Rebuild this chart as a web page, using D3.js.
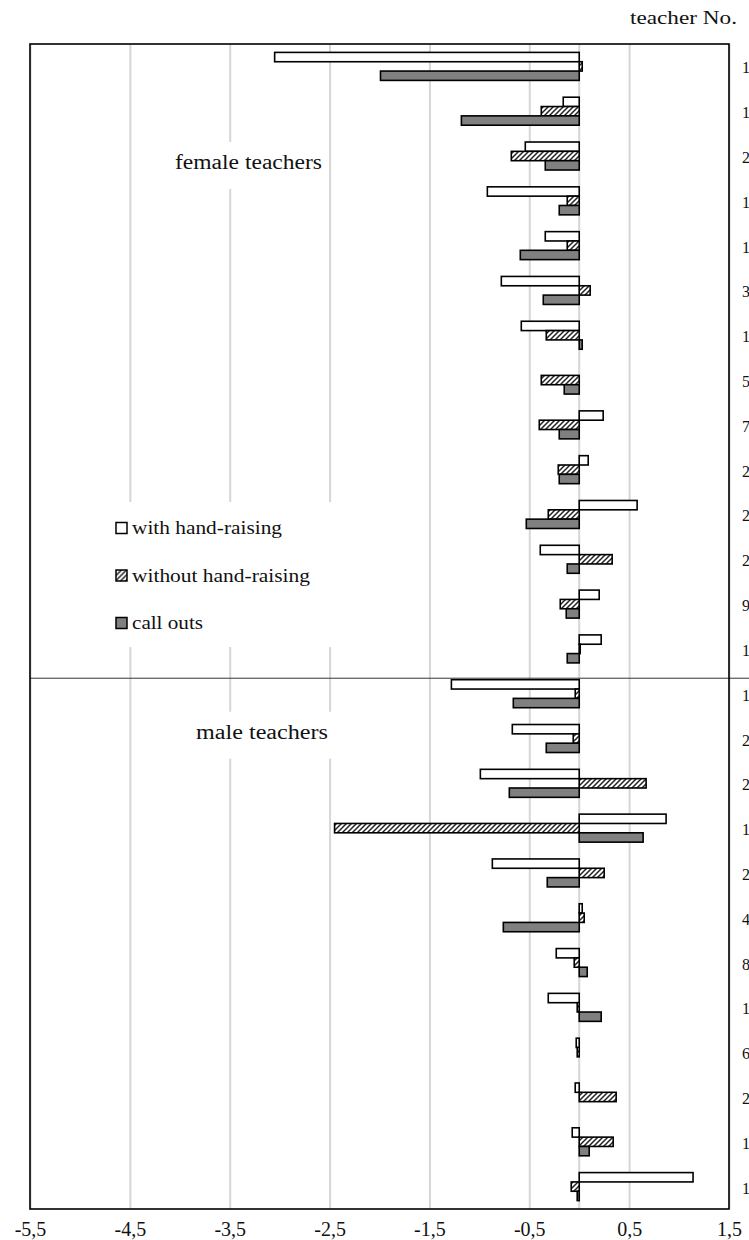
<!DOCTYPE html>
<html>
<head>
<meta charset="utf-8">
<script src="https://cdn.jsdelivr.net/npm/d3@7"></script>
<style>
  body { margin: 0; background: #fff; }
  svg { display: block; font-family: "Liberation Serif", "Times New Roman", serif; }
  svg text { font-family: "Liberation Serif", "Times New Roman", serif; }
</style>
</head>
<body>
<div id="chart"></div>
<script>
// teacher numbers as far as they are visible (cut at the right edge)
var femaleTeachers = ['1', '1', '2', '1', '1', '3', '1', '5', '7', '2', '2', '2', '9', '1'];
var maleTeachers = ['1', '2', '2', '1', '2', '4', '8', '1', '6', '2', '1', '1'];

var seriesNames = ['with hand-raising', 'without hand-raising', 'call outs'];

var withHandRaising = [-3.05, -0.16, -0.54, -0.92, -0.34, -0.78, -0.58, 0, 0.24, 0.09, 0.58, -0.39, 0.2, 0.22,
                       -1.28, -0.67, -0.99, 0.87, -0.87, 0.03, -0.23, -0.31, -0.03, -0.04, -0.07, 1.14];
var withoutHandRaising = [0.03, -0.38, -0.68, -0.12, -0.12, 0.11, -0.33, -0.38, -0.4, -0.21, -0.31, 0.33, -0.19, 0.01,
                          -0.04, -0.06, 0.67, -2.45, 0.25, 0.05, -0.05, -0.02, -0.02, 0.37, 0.34, -0.08];
var callOuts = [-1.99, -1.18, -0.34, -0.2, -0.59, -0.36, 0.03, -0.15, -0.2, -0.2, -0.53, -0.12, -0.13, -0.12,
                -0.66, -0.33, -0.7, 0.64, -0.32, -0.76, 0.08, 0.22, 0, 0, 0.1, -0.02];

var xTicks = [-5.5, -4.5, -3.5, -2.5, -1.5, -0.5, 0.5, 1.5];

var width = 749, height = 1240;
var teachers = femaleTeachers.concat(maleTeachers);
var seriesValues = [withHandRaising, withoutHandRaising, callOuts];

var svg = d3.select('#chart').append('svg')
  .attr('width', width)
  .attr('height', height);

var defs = svg.append('defs');
var hatch = defs.append('pattern')
  .attr('id', 'hatch')
  .attr('patternUnits', 'userSpaceOnUse')
  .attr('width', 5)
  .attr('height', 5);
hatch.append('rect').attr('width', 5).attr('height', 5).attr('fill', '#fff');
hatch.append('path')
  .attr('d', 'M0,5 L5,0 M-1,1 L1,-1 M4,6 L6,4')
  .attr('stroke', '#222')
  .attr('stroke-width', 1.5);

var fills = ['#fff', 'url(#hatch)', '#808080'];

var x = d3.scaleLinear().domain([-5.5, 1.5]).range([30, 729]);
var y = d3.scaleBand()
  .domain(d3.range(teachers.length))
  .range([44, 1209])
  .paddingInner(0.375)
  .paddingOuter(0.1875);
var ySeries = d3.scaleBand().domain(d3.range(seriesNames.length)).range([0, y.bandwidth()]);

var plotTop = y.range()[0], plotBottom = y.range()[1];

// vertical gridlines
svg.append('g')
  .attr('transform', 'translate(0,' + plotBottom + ')')
  .call(d3.axisBottom(x).tickValues(xTicks).tickSize(-(plotBottom - plotTop)).tickFormat(''))
  .call(function(g) {
    g.select('.domain').remove();
    g.selectAll('.tick line').attr('stroke', '#d6d6d6').attr('stroke-width', 2);
  });

// zero line
svg.append('line')
  .attr('x1', x(0)).attr('x2', x(0))
  .attr('y1', plotTop).attr('y2', plotBottom)
  .attr('stroke', '#d6d6d6')
  .attr('stroke-width', 2);

// white boxes behind annotations and legend
function note(txt, tx, ty, len) {
  svg.append('rect')
    .attr('x', tx - 10).attr('y', ty - 27)
    .attr('width', len + 16).attr('height', 47)
    .attr('fill', '#fff');
  svg.append('text')
    .attr('x', tx).attr('y', ty)
    .attr('font-size', 20)
    .attr('textLength', len)
    .attr('lengthAdjust', 'spacingAndGlyphs')
    .attr('fill', '#111')
    .text(txt);
}
note('female teachers', 175, 169, 147);

var maleBandTop = y(femaleTeachers.length);
note('male teachers', 196, maleBandTop + 59, 132);

// legend
var legendW = [150, 178, 71];
svg.append('rect')
  .attr('x', 105).attr('y', 502)
  .attr('width', 232).attr('height', 145)
  .attr('fill', '#fff');
var legend = svg.append('g').selectAll('g')
  .data(seriesNames)
  .join('g')
  .attr('transform', function(d, i) { return 'translate(116,' + (528 + i * 47.5) + ')'; });
legend.append('rect')
  .attr('x', 0).attr('y', -5.5)
  .attr('width', 11).attr('height', 11)
  .attr('fill', function(d, i) { return fills[i]; })
  .attr('stroke', '#000')
  .attr('stroke-width', 1.5);
legend.append('text')
  .attr('x', 16).attr('y', 6)
  .attr('font-size', 19)
  .attr('textLength', function(d, i) { return legendW[i]; })
  .attr('lengthAdjust', 'spacingAndGlyphs')
  .attr('fill', '#111')
  .text(function(d) { return d; });

// bars
seriesValues.forEach(function(vals, s) {
  svg.append('g').selectAll('rect')
    .data(vals)
    .join('rect')
    .attr('x', function(d) { return x(Math.min(0, d)); })
    .attr('y', function(d, i) { return y(i) + ySeries(s); })
    .attr('width', function(d) { return Math.abs(x(d) - x(0)); })
    .attr('height', ySeries.bandwidth())
    .attr('fill', fills[s])
    .attr('stroke', '#000')
    .attr('stroke-width', 1.6);
});

// female / male divider
svg.append('line')
  .attr('x1', x.range()[0]).attr('x2', width)
  .attr('y1', maleBandTop - 1.5).attr('y2', maleBandTop - 1.5)
  .attr('stroke', '#333')
  .attr('stroke-width', 1);

// frame
svg.append('rect')
  .attr('x', x.range()[0]).attr('y', plotTop)
  .attr('width', x.range()[1] - x.range()[0])
  .attr('height', plotBottom - plotTop)
  .attr('fill', 'none')
  .attr('stroke', '#000')
  .attr('stroke-width', 1.6);

// teacher numbers on the right
svg.append('g').selectAll('text')
  .data(teachers)
  .join('text')
  .attr('x', 742)
  .attr('y', function(d, i) { return y(i) + y.bandwidth() / 2 + 7; })
  .attr('font-size', 16)
  .attr('fill', '#111')
  .text(function(d) { return d; });

svg.append('text')
  .attr('x', 630).attr('y', 24)
  .attr('font-size', 19)
  .attr('textLength', 107)
  .attr('lengthAdjust', 'spacingAndGlyphs')
  .attr('fill', '#111')
  .text('teacher No.');

// x axis labels, comma decimals
var locale = d3.formatLocale({decimal: ',', thousands: '.', grouping: [3], currency: ['', ''], minus: '-'});
var fmt = locale.format('.1f');
svg.append('g')
  .attr('transform', 'translate(0,' + plotBottom + ')')
  .call(d3.axisBottom(x).tickValues(xTicks).tickSize(0).tickPadding(0).tickFormat(fmt))
  .call(function(g) {
    g.attr('font-family', null).attr('font-size', null);
    g.select('.domain').remove();
    g.selectAll('.tick text')
      .attr('y', 27)
      .attr('dy', 0)
      .attr('font-size', 20)
      .attr('fill', '#111');
  });
</script>
</body>
</html>
